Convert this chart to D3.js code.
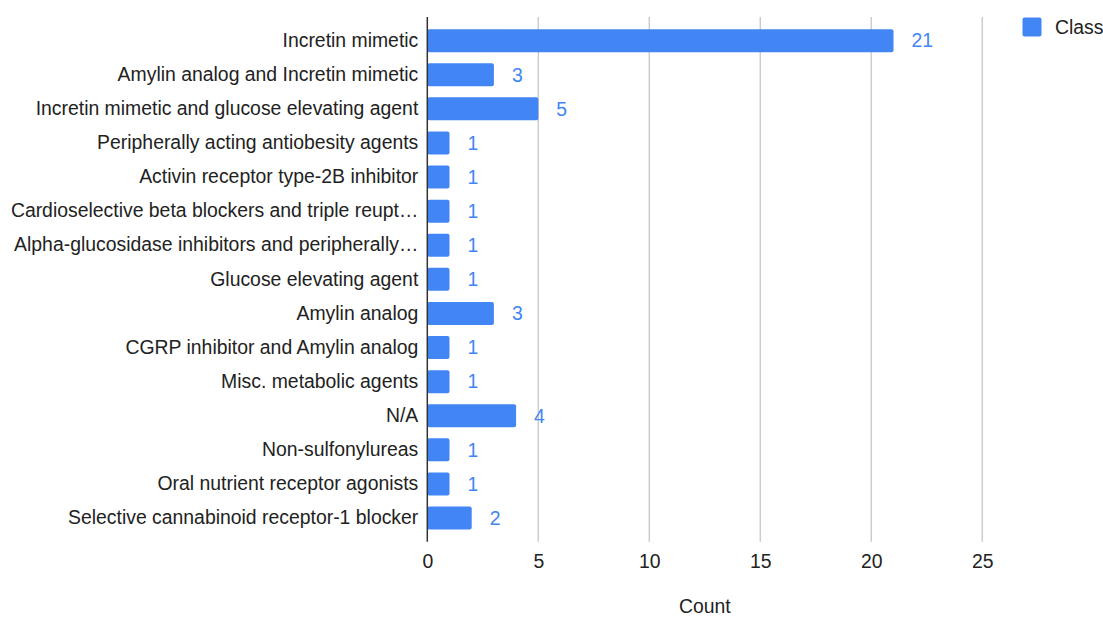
<!DOCTYPE html>
<html>
<head>
<meta charset="utf-8">
<script src="https://cdn.jsdelivr.net/npm/d3@7"></script>
<style>
  html, body { margin: 0; padding: 0; background: #fff; }
  svg { display: block; font-family: "Liberation Sans", Arial, sans-serif; }
</style>
</head>
<body>
<svg id="chart" width="1103" height="617"></svg>
<script>
const categories = [
  "Incretin mimetic",
  "Amylin analog and Incretin mimetic",
  "Incretin mimetic and glucose elevating agent",
  "Peripherally acting antiobesity agents",
  "Activin receptor type-2B inhibitor",
  "Cardioselective beta blockers and triple reupt…",
  "Alpha-glucosidase inhibitors and peripherally…",
  "Glucose elevating agent",
  "Amylin analog",
  "CGRP inhibitor and Amylin analog",
  "Misc. metabolic agents",
  "N/A",
  "Non-sulfonylureas",
  "Oral nutrient receptor agonists",
  "Selective cannabinoid receptor-1 blocker"
];
const counts = [21, 3, 5, 1, 1, 1, 1, 1, 3, 1, 1, 4, 1, 1, 2];
const xTicks = [0, 5, 10, 15, 20, 25];
const seriesName = "Class";
const xTitle = "Count";

const svg = d3.select("#chart");
const pLeft = 427.3, pRight = 982.3, pTop = 17, pBottom = 541.7;
const barColor = "#4285F4";
const fontSize = 19.4;

const x = d3.scaleLinear().domain([0, 25]).range([pLeft, pRight]);
const y = d3.scaleBand().domain(categories).range([pTop, pBottom])
  .paddingInner(0.325).paddingOuter(0.356);

// gridlines
svg.append("g").selectAll("line").data(xTicks.filter(d => d !== 0)).join("line")
  .attr("x1", d => x(d)).attr("x2", d => x(d))
  .attr("y1", pTop).attr("y2", pBottom)
  .attr("stroke", "#cccccc").attr("stroke-width", 1.5);

// bars
svg.append("g").selectAll("rect").data(categories).join("rect")
  .attr("x", x(0))
  .attr("y", d => y(d))
  .attr("width", (d, i) => x(counts[i]) - x(0))
  .attr("height", y.bandwidth())
  .attr("rx", 2).attr("ry", 2)
  .attr("fill", barColor);

// baseline axis
svg.append("line")
  .attr("x1", x(0)).attr("x2", x(0)).attr("y1", pTop).attr("y2", pBottom)
  .attr("stroke", "#333").attr("stroke-width", 1.5);

// value labels
svg.append("g").selectAll("text").data(categories).join("text")
  .attr("x", (d, i) => x(counts[i]) + 18)
  .attr("y", d => y(d) + y.bandwidth() / 2)
  .attr("dy", "0.35em")
  .attr("font-size", fontSize)
  .attr("fill", barColor)
  .text((d, i) => counts[i]);

// category labels (y axis)
const yAxis = d3.axisLeft(y).tickSize(0).tickPadding(9);
const yg = svg.append("g").attr("transform", `translate(${x(0)},0)`).call(yAxis);
yg.select(".domain").remove();
yg.selectAll("text").attr("font-size", fontSize).attr("fill", "#222")
  .attr("font-family", "Liberation Sans, Arial, sans-serif");

// x axis tick labels
const xAxis = d3.axisBottom(x).tickValues(xTicks).tickSize(0).tickPadding(13);
const xg = svg.append("g").attr("transform", `translate(0,${pBottom})`).call(xAxis);
xg.select(".domain").remove();
xg.selectAll("text").attr("font-size", fontSize).attr("fill", "#222")
  .attr("font-family", "Liberation Sans, Arial, sans-serif");

// x title
svg.append("text")
  .attr("x", (pLeft + pRight) / 2).attr("y", 606.5).attr("dy", "0.35em")
  .attr("text-anchor", "middle").attr("font-size", fontSize).attr("fill", "#222")
  .text(xTitle);

// legend
const lg = svg.append("g");
lg.append("rect").attr("x", 1022.5).attr("y", 17.5).attr("width", 19).attr("height", 19)
  .attr("rx", 2).attr("fill", barColor);
lg.append("text").attr("x", 1055).attr("y", 27).attr("dy", "0.35em")
  .attr("font-size", fontSize).attr("fill", "#222").text(seriesName);
</script>
</body>
</html>
